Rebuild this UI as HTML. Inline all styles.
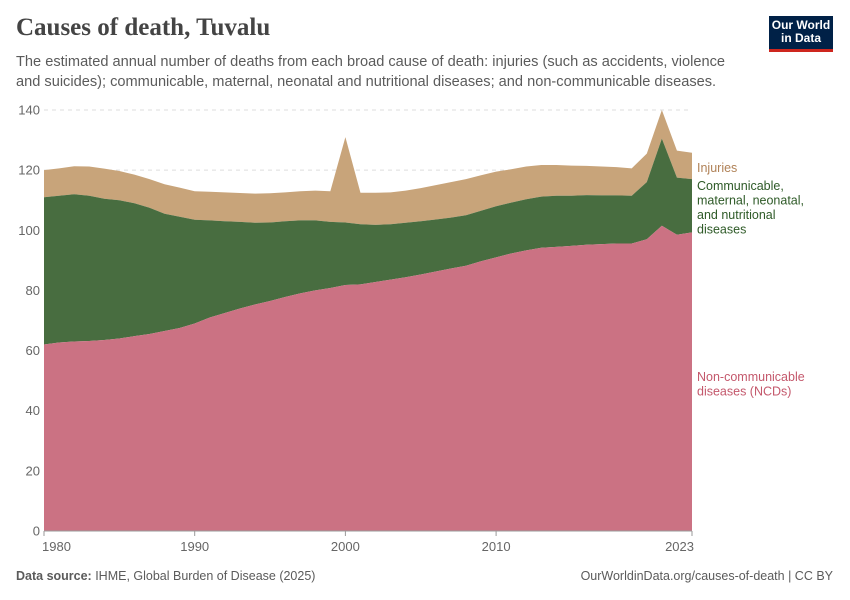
<!DOCTYPE html>
<html><head><meta charset="utf-8"><style>
body{margin:0;background:#fff;font-family:"Liberation Sans",sans-serif;}
#wrap{position:relative;width:850px;height:600px;overflow:hidden;}
.t{position:absolute;white-space:nowrap;}
</style></head><body>
<div id="wrap">
<div class="t" style="left:16px;top:14px;font-family:'Liberation Serif',serif;font-size:25px;font-weight:bold;color:#444;">Causes of death, Tuvalu</div>
<div class="t" style="left:16px;top:52px;font-size:14.6px;line-height:20px;color:#5b5b5b;">The estimated annual number of deaths from each broad cause of death: injuries (such as accidents, violence<br>and suicides); communicable, maternal, neonatal and nutritional diseases; and non-communicable diseases.</div>
<div style="position:absolute;left:769px;top:16px;width:64px;background:#002147;border-bottom:3px solid #ce261e;color:#fff;font-size:12px;font-weight:bold;text-align:center;line-height:13px;padding-top:3px;box-sizing:content-box;height:30px;">Our World<br>in Data</div>
<svg id="chart" width="850" height="600" style="position:absolute;left:0;top:0"></svg>
<div class="t" style="left:16px;top:569px;font-size:12.5px;color:#5b5b5b;"><b>Data source:</b> IHME, Global Burden of Disease (2025)</div>
<div class="t" style="right:17px;top:569px;font-size:12.5px;color:#5b5b5b;">OurWorldinData.org/causes-of-death | CC BY</div>
</div>
<script>
const years=[];for(let y=1980;y<=2023;y++)years.push(y);
const ncd=[62,62.7,63,63.2,63.5,64,64.8,65.5,66.5,67.5,69,71,72.5,74,75.3,76.5,77.8,79,80,80.8,81.8,82,82.8,83.6,84.4,85.3,86.3,87.3,88.2,89.7,91,92.3,93.3,94.2,94.5,94.8,95.2,95.4,95.6,95.6,97,101.5,98.5,99.3];
const comm=[49,48.8,49,48.3,47,46,44.2,42,39,37,34.5,32.3,30.5,28.8,27.2,26.1,25.2,24.3,23.3,22,20.8,20,19,18.4,18.1,17.7,17.3,16.9,16.8,16.8,17,16.9,17,17,17,16.7,16.5,16.2,16,15.9,19,29,19,17.7];
const inj=[9,9.1,9.3,9.7,10,9.7,9.5,9.5,9.8,9.7,9.5,9.5,9.6,9.6,9.7,9.7,9.6,9.7,9.9,10.2,28.4,10.5,10.7,10.6,10.7,11,11.4,11.8,12,11.8,11.5,11.1,10.9,10.5,10.2,10,9.7,9.6,9.4,9.1,9.5,9.5,9,8.8];
const yTicks=[0,20,40,60,80,100,120,140];
const xTicks=[1980,1990,2000,2010,2023];
const NS='http://www.w3.org/2000/svg';
const svg=document.getElementById('chart');
const X=y=>44+(y-1980)*(692-44)/43;
const Y=v=>531-v*(531-110)/140;
function mk(t,a){const e=document.createElementNS(NS,t);for(const k in a)e.setAttribute(k,a[k]);svg.appendChild(e);return e;}
yTicks.forEach(v=>{
 if(v>0){const l=mk('line',{x1:44,x2:692,y1:Y(v),y2:Y(v),stroke:'#ddd','stroke-dasharray':'4,4'});
 
 }
 const t=mk('text',{x:40,y:Y(v)+4.5,'text-anchor':'end','font-size':13,fill:'#666','font-family':'Liberation Sans, sans-serif'});t.textContent=v;
 
 
});
const c1=ncd.map(v=>v),c2=ncd.map((v,i)=>v+comm[i]),c3=c2.map((v,i)=>v+inj[i]);
function area(top,bot,fill,name){
 let d='M'+years.map((y,i)=>X(y)+','+Y(top[i])).join('L');
 for(let i=years.length-1;i>=0;i--)d+='L'+X(years[i])+','+Y(bot?bot[i]:0);
 const p=mk('path',{d:d+'Z',fill:fill});
 
 
}
area(c3,c2,'#c8a47a','area-injuries');
area(c2,c1,'#486d40','area-communicable');
area(c1,null,'#cb7283','area-ncd');
mk('line',{x1:44,x2:692,y1:531,y2:531,stroke:'#999'});
xTicks.forEach(y=>{
 mk('line',{x1:X(y),x2:X(y),y1:531,y2:536,stroke:'#999'});
 const t=mk('text',{x:X(y),y:551,'text-anchor':y===1980?'start':(y===2023?'end':'middle'),'font-size':13,fill:'#666','font-family':'Liberation Sans, sans-serif'});
 if(y===1980)t.setAttribute('x',X(y)-2);
 if(y===2023)t.setAttribute('x',X(y)+2);
 t.textContent=y;
 
 
});
function lab(lines,y0,col,name){
 const t=mk('text',{x:697,y:y0,'font-size':12.5,fill:col,'font-family':'Liberation Sans, sans-serif'});
 lines.forEach((s,i)=>{const ts=document.createElementNS(NS,'tspan');ts.setAttribute('x',697);ts.setAttribute('dy',i?14.5:0);ts.textContent=s;t.appendChild(ts);});
 
 
}
lab(['Injuries'],172,'#b08257','legend-injuries');
lab(['Communicable,','maternal, neonatal,','and nutritional','diseases'],190,'#2e5a27','legend-communicable');
lab(['Non-communicable','diseases (NCDs)'],381,'#c4586c','legend-ncd');
</script>
</body></html>
